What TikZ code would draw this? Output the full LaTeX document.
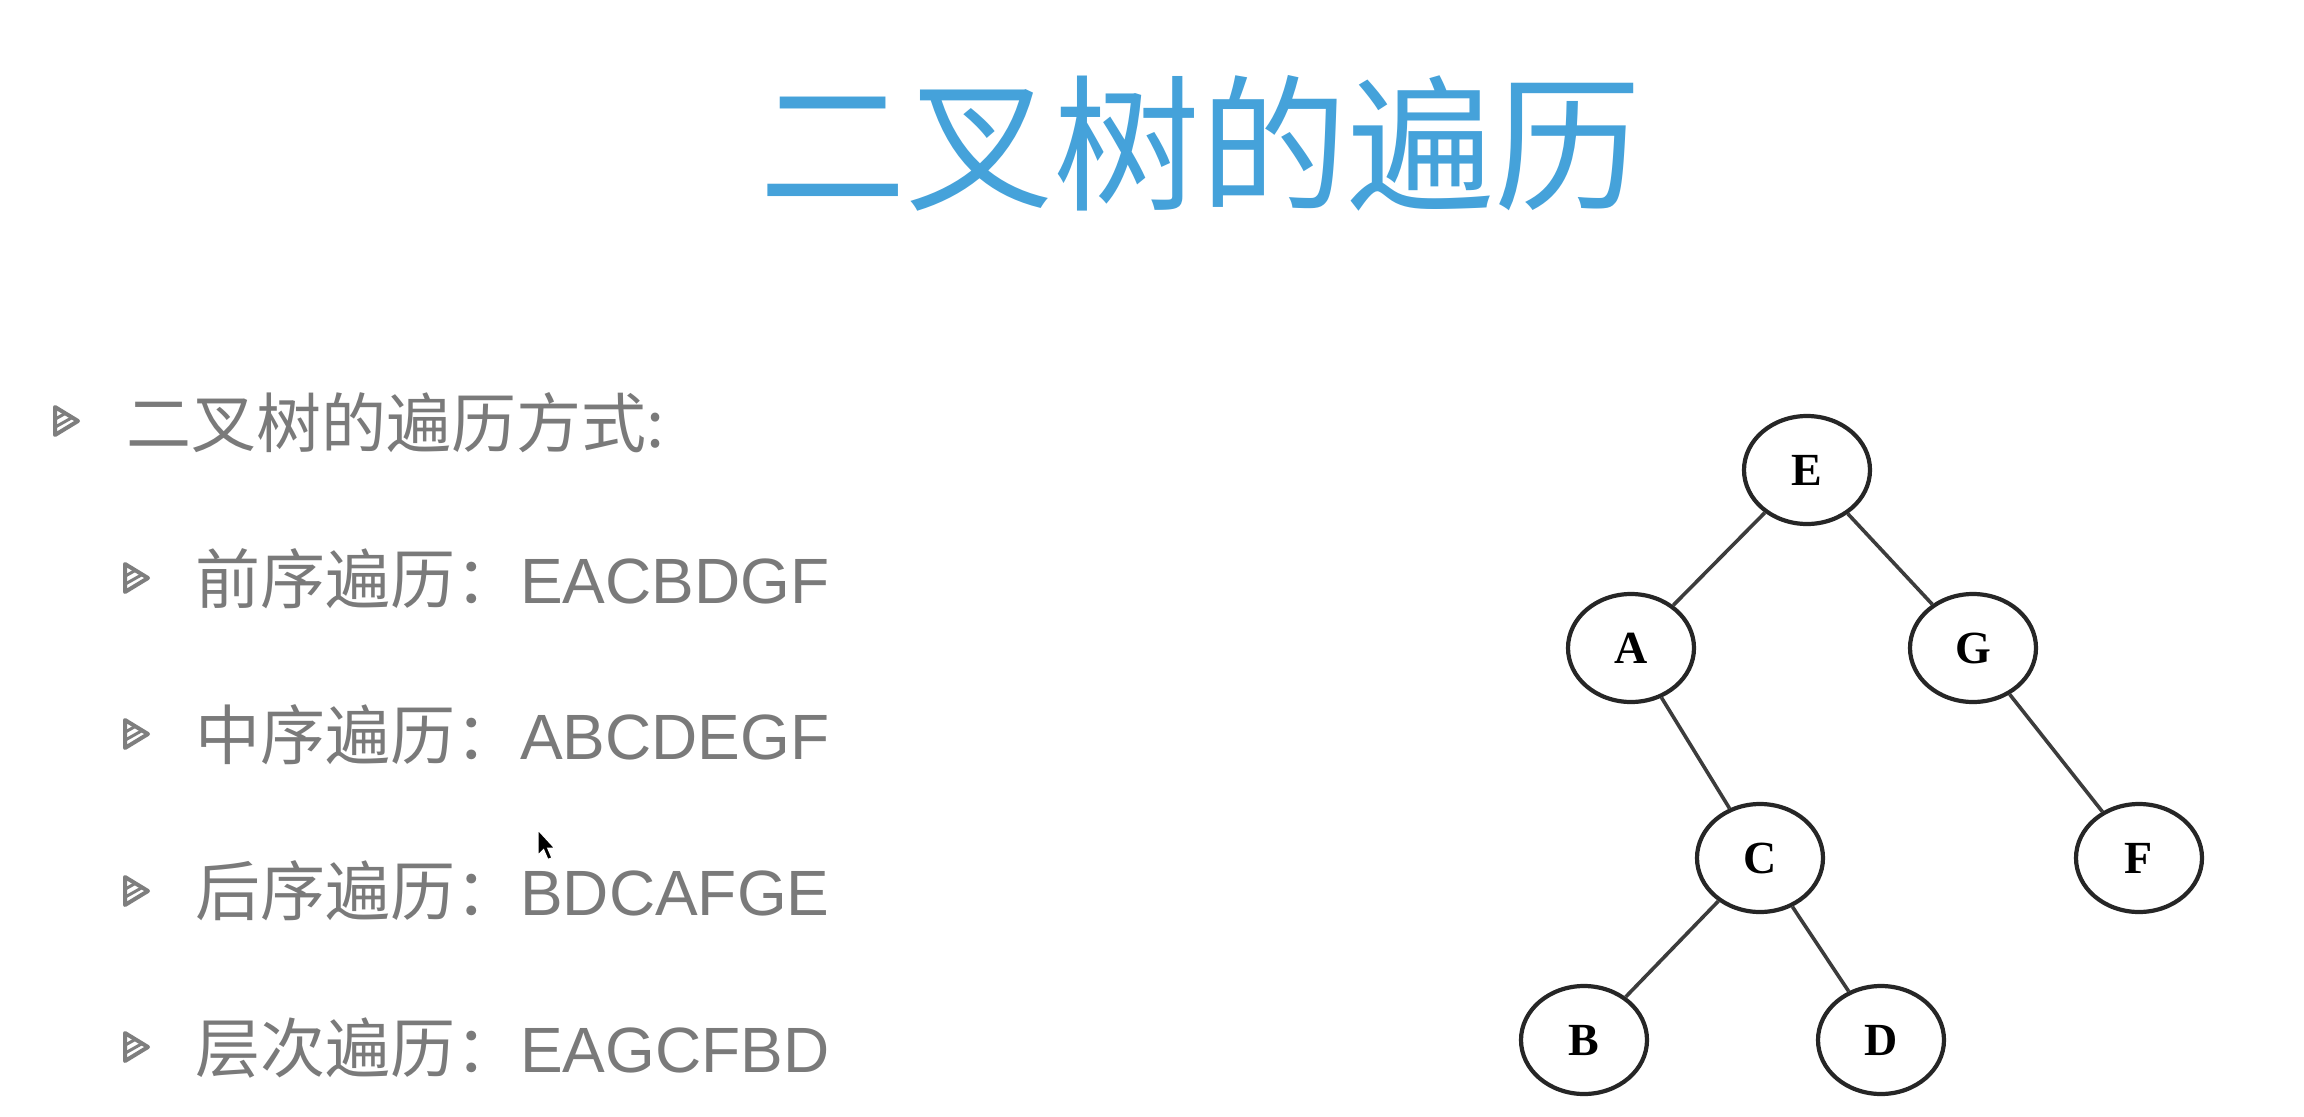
\documentclass[tikz,border=0pt]{standalone}
\usepackage{fontspec}
\usetikzlibrary{shapes.geometric}
\newfontfamily\cjkf{Noto Sans CJK SC}
\newfontfamily\latf{Liberation Sans}
\newfontfamily\treef{Liberation Serif}
\definecolor{titleblue}{HTML}{45A2DA}
\definecolor{txtgray}{HTML}{7A7A7A}
\definecolor{bulgray}{HTML}{7E7E7E}
\definecolor{treeline}{HTML}{262626}
\tikzset{
  treenode/.style={ellipse, draw=treeline, line width=4.2pt, minimum width=126pt,
    minimum height=108pt, inner sep=0pt, font=\treef\bfseries\fontsize{46}{46}\selectfont},
  edge/.style={draw=treeline!90, line width=3.6pt},
  lvlone/.style={anchor=base west, inner sep=0pt, text=txtgray, font=\cjkf\fontsize{65}{70}\selectfont},
  lvltwo/.style={anchor=base west, inner sep=0pt, text=txtgray, font=\cjkf\fontsize{65}{70}\selectfont},
  bulletmark/.pic={
    \begin{scope}
      \clip (-11,-14) -- (12,0) -- (-11,14) -- cycle;
      \foreach \d in {-8,0,8} \draw[line width=3pt,bulgray] (-16,\d+9) -- (16,\d-9);
    \end{scope}
    \draw[bulgray,line width=4pt,line join=round] (-11,-14) -- (12,0) -- (-11,14) -- cycle;
  }
}
\begin{document}
\begin{tikzpicture}[x=1pt,y=-1pt]
\useasboundingbox (0,0) rectangle (2304,1116);
\fill[white] (0,0) rectangle (2304,1116);
% title
\node[text=titleblue, font=\cjkf\fontsize{147}{160}\selectfont, inner sep=0pt] (title) at (1200,143) {二叉树的遍历};
% bullets
\pic at (66,421) {bulletmark};
\node[lvlone] (l0) at (126,447) {二叉树的遍历方式:};
\pic at (136,578) {bulletmark};
\node[lvltwo] (l1) at (195,603) {前序遍历：{\latf\fontsize{64}{70}\selectfont EACBDGF}};
\pic at (136,734) {bulletmark};
\node[lvltwo] (l2) at (195,759) {中序遍历：{\latf\fontsize{64}{70}\selectfont ABCDEGF}};
\pic at (136,891) {bulletmark};
\node[lvltwo] (l3) at (195,915) {后序遍历：{\latf\fontsize{64}{70}\selectfont BDCAFGE}};
\pic at (136,1047) {bulletmark};
\node[lvltwo] (l4) at (195,1072) {层次遍历：{\latf\fontsize{64}{70}\selectfont EAGCFBD}};
% mouse cursor
\coordinate (cur) at (538,830);
\filldraw[fill=black, draw=white, line width=1.2pt, shift={(cur)}, scale=1.4]
  (0,0) -- (0,18) -- (4,14) -- (7,21) -- (10,20) -- (7,13) -- (12,13) -- cycle;
% tree
\node[treenode] (E) at (1807,470) {E};
\node[treenode] (A) at (1631,648) {A};
\node[treenode] (G) at (1973,648) {G};
\node[treenode] (C) at (1760,858) {C};
\node[treenode] (F) at (2139,858) {F};
\node[treenode] (B) at (1584,1040) {B};
\node[treenode] (D) at (1881,1040) {D};
\draw[edge] (E) -- (A);
\draw[edge] (E) -- (G);
\draw[edge] (A) -- (C);
\draw[edge] (G) -- (F);
\draw[edge] (C) -- (B);
\draw[edge] (C) -- (D);
\end{tikzpicture}
\end{document}
